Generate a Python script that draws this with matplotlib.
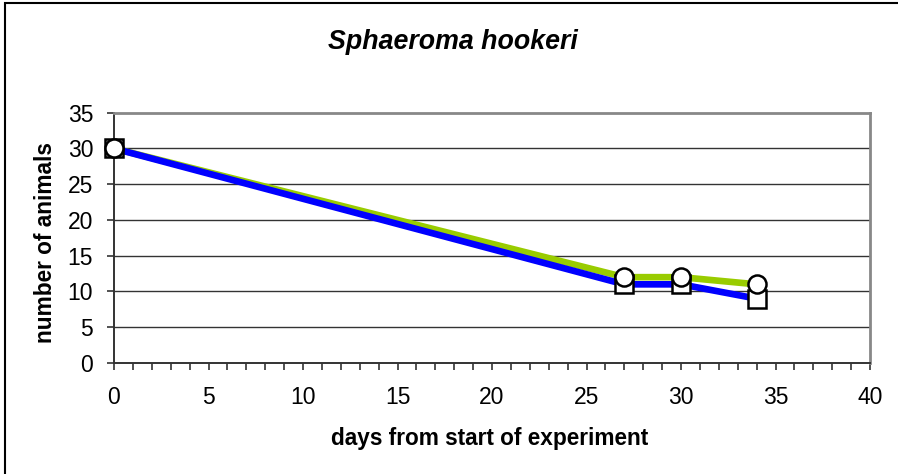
import matplotlib
matplotlib.use("Agg")
import matplotlib.pyplot as plt
from matplotlib.patches import Rectangle

days = [0, 27, 30, 34]
green_counts = [30, 12, 12, 11]
blue_counts = [30, 11, 11, 9]
x_ticks = [0, 5, 10, 15, 20, 25, 30, 35, 40]
y_ticks = [0, 5, 10, 15, 20, 25, 30, 35]

plt.rcParams['font.family'] = ['Liberation Sans', 'DejaVu Sans']

W, H = 898, 474
fig = plt.figure(figsize=(W / 100, H / 100), dpi=100)
fig.patch.set_facecolor('white')

# outer frame
fig.patches.append(Rectangle((5 / W, -0.1), 1.2, 1 - 3 / H + 0.1, transform=fig.transFigure,
                             fill=False, edgecolor='black', linewidth=1.5))

left, right, top, bottom = 114, 870, 112.7, 363
ax = fig.add_axes([left / W, 1 - bottom / H, (right - left) / W, (bottom - top) / H])
ax.set_xlim(0, 40)
ax.set_ylim(0, 35)

ax.set_yticks(y_ticks)
ax.set_xticks(x_ticks)
ax.set_xticks(range(0, 41), minor=True)
for y in y_ticks[1:-1]:
    ax.axhline(y, color='#333333', linewidth=1.0, zorder=1)

for s in ['top', 'right']:
    ax.spines[s].set_color('#888888')
    ax.spines[s].set_linewidth(2.0)
for s in ['left', 'bottom']:
    ax.spines[s].set_color('#333333')
    ax.spines[s].set_linewidth(1.4)

ax.tick_params(axis='both', which='both', direction='out', length=5, width=1.2,
               color='#333333', labelsize=16.5, labelcolor='black')
ax.tick_params(axis='x', which='major', pad=11.2)
ax.tick_params(axis='y', which='major', pad=10)

ax.plot(days, green_counts, color='#99CC00', linewidth=4.8, solid_capstyle='round',
        solid_joinstyle='round', zorder=3, clip_on=False)
ax.plot(days, blue_counts, color='#0000FF', linewidth=4.8, solid_capstyle='round',
        solid_joinstyle='round', zorder=4, clip_on=False)
ax.plot(days, blue_counts, linestyle='none', marker='s', markersize=13.5,
        markerfacecolor='white', markeredgecolor='black', markeredgewidth=1.8,
        zorder=5, clip_on=False)
ax.plot(days, green_counts, linestyle='none', marker='o', markersize=13,
        markerfacecolor='white', markeredgecolor='black', markeredgewidth=1.8,
        zorder=6, clip_on=False)

fig.text(490 / W, 1 - 445 / H, 'days from start of experiment', fontsize=16.3,
         fontweight='bold', ha='center', va='baseline')
fig.text(46 / W, 1 - 243 / H, 'number of animals', rotation=90, fontsize=16.3,
         fontweight='bold', ha='center', va='center')
fig.text(453 / W, 1 - 49.3 / H, 'Sphaeroma hookeri', fontsize=19.3, fontweight='bold',
         fontstyle='italic', ha='center', va='baseline')

fig.savefig('out.png', dpi=100, facecolor='white')
